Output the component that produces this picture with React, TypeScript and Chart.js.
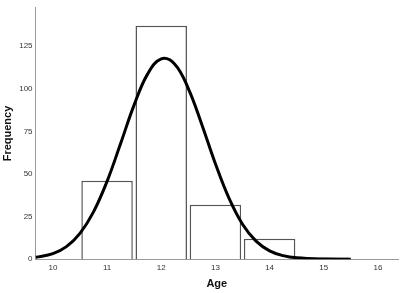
import React, { useEffect, useRef } from "react";
import { Chart, registerables } from "chart.js";

Chart.register(...registerables);

const ageBins = [11, 12, 13, 14, 15];
const frequencies = [46, 137, 32, 12, 1];

const curveX = [9.68, 10, 10.25, 10.5, 10.75, 11, 11.25, 11.5, 11.75, 12, 12.25, 12.5, 12.75, 13, 13.25, 13.5, 13.75, 14, 14.25, 14.5, 15, 15.5];
const curveY = [1.1, 3.3, 7.4, 15.2, 27.8, 45.7, 67.9, 90.6, 108.8, 117.6, 114.5, 100.2, 79.0, 56.0, 35.8, 20.5, 10.6, 4.9, 2.1, 0.8, 0.1, 0];

const xTickValues = [10, 11, 12, 13, 14, 15, 16];
const yTickValues = [0, 25, 50, 75, 100, 125];

export default function App() {
  const ref = useRef<HTMLCanvasElement>(null);
  useEffect(() => {
    document.body.style.margin = "0";
    const ctx = ref.current!;
    const chart = new Chart(ctx, {
      type: "bar",
      data: {
        datasets: [
          {
            type: "line",
            data: curveX.map((x, i) => ({ x, y: curveY[i] })),
            borderColor: "#000000",
            borderWidth: 3,
            pointRadius: 0,
            tension: 0.4,
            fill: false,
            order: 0,
          } as any,
          {
            type: "bar",
            data: ageBins.map((x, i) => ({ x, y: frequencies[i] })),
            backgroundColor: "#ffffff",
            borderColor: "#555555",
            borderWidth: 1.5,
            barPercentage: 0.95,
            categoryPercentage: 1,
            order: 1,
          } as any,
        ],
      },
      options: {
        animation: false,
        responsive: false,
        maintainAspectRatio: false,
        layout: { padding: { top: 3, right: 2, left: 1, bottom: 2 } },
        plugins: { legend: { display: false }, tooltip: { enabled: false } },
        scales: {
          x: {
            type: "linear",
            offset: false,
            min: 9.68,
            max: 16.37,
            grid: { display: false, drawTicks: false },
            border: { color: "#9a9a9a", width: 1 },
            afterBuildTicks: (scale: any) => {
              scale.ticks = xTickValues.map((v) => ({ value: v }));
            },
            ticks: {
              color: "#333333",
              font: { family: "Liberation Sans, Arial", size: 8 },
              padding: 4,
              maxRotation: 0,
            },
            title: {
              display: true,
              text: "Age",
              color: "#111111",
              font: { family: "Liberation Sans, Arial", size: 11, weight: "bold" },
              padding: { top: 1, bottom: 0 },
            },
          },
          y: {
            min: 0,
            max: 147.6,
            grid: { display: false, drawTicks: false },
            border: { color: "#9a9a9a", width: 1 },
            afterBuildTicks: (scale: any) => {
              scale.ticks = yTickValues.map((v) => ({ value: v }));
            },
            ticks: {
              color: "#333333",
              font: { family: "Liberation Sans, Arial", size: 8 },
              padding: 3,
            },
            title: {
              display: true,
              text: "Frequency",
              color: "#111111",
              font: { family: "Liberation Sans, Arial", size: 11, weight: "bold" },
              padding: { top: 0, bottom: 2 },
            },
          },
        },
      },
    });
    return () => chart.destroy();
  }, []);
  return (
    <div style={{ position: "absolute", left: 0, top: 0, width: 400, height: 293, background: "#fff" }}>
      <canvas ref={ref} width={400} height={293} />
    </div>
  );
}
